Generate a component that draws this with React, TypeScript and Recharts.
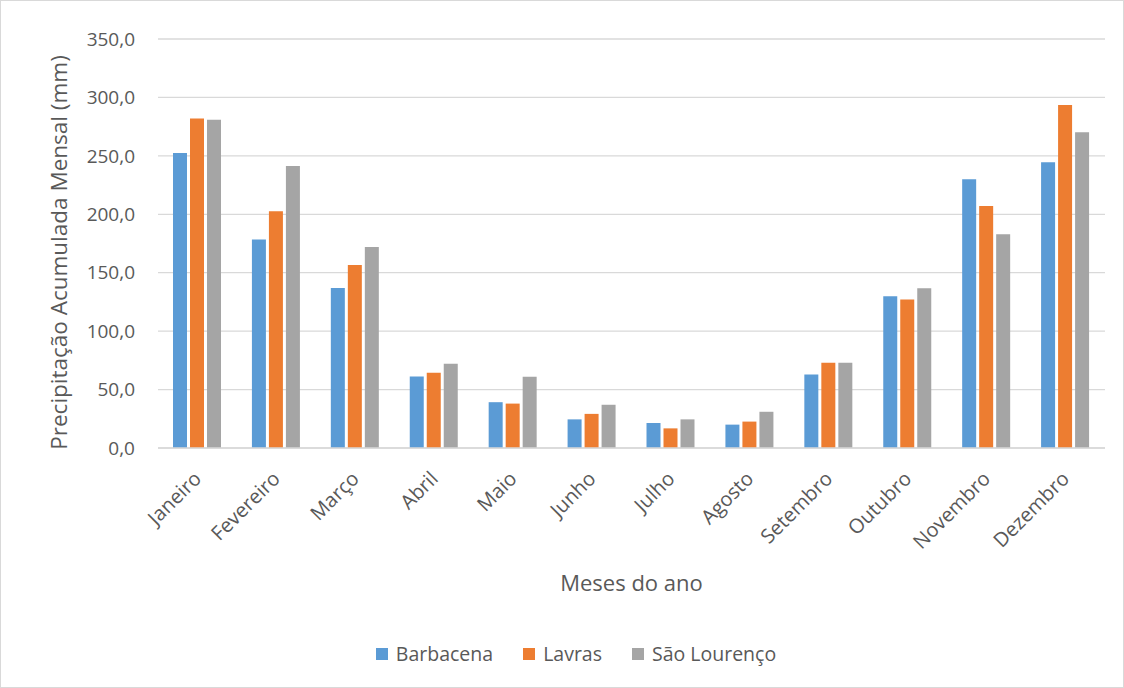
import React from "react";
import { BarChart, Bar, XAxis, YAxis, CartesianGrid, Label } from "recharts";

const meses = [
  "Janeiro", "Fevereiro", "Março", "Abril", "Maio", "Junho",
  "Julho", "Agosto", "Setembro", "Outubro", "Novembro", "Dezembro",
];

const barbacena = [252.5, 178.4, 137.0, 61.2, 39.2, 24.5, 21.4, 20.0, 63.0, 129.8, 230.0, 244.5];
const lavras = [281.9, 202.7, 156.7, 64.3, 38.0, 29.2, 16.8, 22.6, 73.0, 127.0, 207.0, 293.5];
const saoLourenco = [280.8, 241.3, 172.1, 72.0, 61.0, 37.0, 24.5, 31.0, 73.0, 136.7, 183.0, 270.3];

const yTicks = [0, 50, 100, 150, 200, 250, 300, 350];

const series = [
  { key: "barbacena", name: "Barbacena", color: "#5B9BD5" },
  { key: "lavras", name: "Lavras", color: "#ED7D31" },
  { key: "saoLourenco", name: "São Lourenço", color: "#A5A5A5" },
];

const data = meses.map((mes, i) => ({
  mes,
  barbacena: barbacena[i],
  lavras: lavras[i],
  saoLourenco: saoLourenco[i],
}));

const FONT = "'Open Sans', 'Noto Sans', sans-serif";
const TEXT = "#595959";
const GRID = "#D9D9D9";

const fmt = (v: number) => v.toFixed(1).replace(".", ",");

function MonthTick(props: any) {
  const { x, y, payload } = props;
  const tx = x + 5;
  const ty = y + 24;
  return (
    <text
      x={tx}
      y={ty}
      textAnchor="end"
      fill={TEXT}
      fontSize={20}
      fontFamily={FONT}
      transform={`rotate(-45, ${tx}, ${ty})`}
    >
      {payload.value}
    </text>
  );
}

function YTitle(props: any) {
  const { viewBox } = props;
  const cx = viewBox.x + 61;
  const cy = viewBox.y + viewBox.height / 2 + 9;
  return (
    <text
      x={cx}
      y={cy}
      textAnchor="middle"
      dominantBaseline="middle"
      fill={TEXT}
      fontSize={22.5}
      fontFamily={FONT}
      transform={`rotate(-90, ${cx}, ${cy})`}
    >
      Precipitação Acumulada Mensal (mm)
    </text>
  );
}

export default function App() {
  return (
    <div
      style={{
        position: "absolute",
        left: 0,
        top: 0,
        width: 1124,
        height: 688,
        background: "#fff",
        boxSizing: "border-box",
        border: "1px solid #D9D9D9",
        fontFamily: FONT,
      }}
    >
      <div style={{ position: "absolute", left: -1, top: -1 }}>
        <BarChart
          width={1124}
          height={688}
          data={data}
          margin={{ top: 39, right: 19, left: 0, bottom: 90 }}
          barSize={14}
          barGap={3}
        >
          <CartesianGrid vertical={false} stroke={GRID} strokeWidth={1.3} />
          <XAxis
            dataKey="mes"
            height={150}
            interval={0}
            tickLine={false}
            axisLine={{ stroke: GRID, strokeWidth: 1.3 }}
            tick={<MonthTick />}
          >
            <Label
              value="Meses do ano"
              position="insideBottom"
              offset={7}
              fill={TEXT}
              fontSize={22}
              fontFamily={FONT}
            />
          </XAxis>
          <YAxis
            width={158}
            domain={[0, 350]}
            ticks={yTicks}
            tickFormatter={fmt}
            axisLine={false}
            tickLine={false}
            tickMargin={17}
            tick={{ fill: TEXT, fontSize: 19, fontFamily: FONT }}
          >
            <Label content={<YTitle />} />
          </YAxis>
          {series.map((s) => (
            <Bar
              key={s.key}
              dataKey={s.key}
              name={s.name}
              fill={s.color}
              isAnimationActive={false}
            />
          ))}
        </BarChart>
      </div>
      {/* legend row under the axis title */}
      <div
        style={{
          position: "absolute",
          top: 639,
          left: 26,
          width: 1098,
          display: "flex",
          justifyContent: "center",
          gap: 30,
          fontSize: 19.5,
          color: TEXT,
        }}
      >
        {series.map((s) => (
          <div key={s.key} style={{ display: "flex", alignItems: "center", gap: 8 }}>
            <span style={{ width: 12, height: 12, background: s.color, display: "inline-block" }} />
            <span>{s.name}</span>
          </div>
        ))}
      </div>
    </div>
  );
}
